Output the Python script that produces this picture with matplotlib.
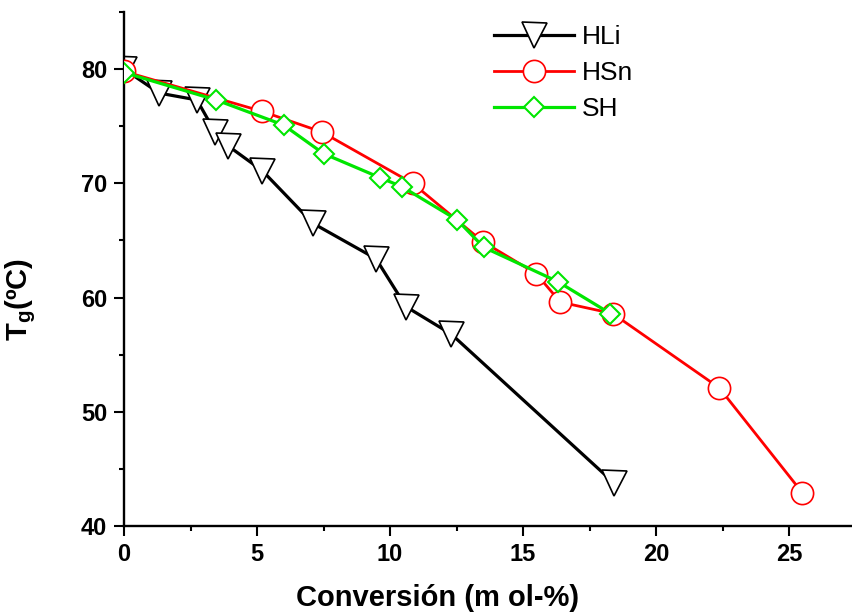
import matplotlib
matplotlib.use("Agg")
import matplotlib.pyplot as plt
from matplotlib.ticker import MultipleLocator

plt.rcParams['font.family'] = ['Liberation Sans', 'DejaVu Sans']
plt.rcParams['mathtext.default'] = 'regular'

# Data
hli_x = [0.0, 1.32, 2.74, 3.42, 3.9, 5.2, 7.1, 9.47, 10.6, 12.3, 18.4]
hli_y = [80.0, 77.9, 77.3, 74.5, 73.3, 71.1, 66.5, 63.4, 59.2, 56.8, 43.8]

hsn_x = [0.0, 5.19, 7.43, 10.85, 13.48, 15.49, 16.4, 18.37, 22.37, 25.5]
hsn_y = [79.8, 76.3, 74.5, 70.0, 64.9, 62.1, 59.6, 58.6, 52.1, 42.9]

sh_x = [0.0, 3.46, 6.0, 7.5, 9.62, 10.45, 12.52, 13.52, 16.3, 18.28]
sh_y = [79.7, 77.3, 75.1, 72.6, 70.5, 69.7, 66.8, 64.4, 61.4, 58.6]

labels = ['HLi', 'HSn', 'SH']
xlabel = 'Conversión (m ol-%)'
ylabel = 'T$_{g}$(ºC)'

fig = plt.figure(figsize=(8.53, 6.15), dpi=100)
ax = fig.add_axes([0.1454, 0.1447, 0.8546, 0.8358])

ax.plot(hli_x, hli_y, color='black', lw=2.3, marker='v', ms=18,
        mfc='white', mec='black', mew=1.2, label=labels[0], zorder=2)
ax.plot(hsn_x, hsn_y, color='#ff0000', lw=2.0, marker='o', ms=16,
        mfc='white', mec='#ff0000', mew=1.2, label=labels[1], zorder=3)
ax.plot(sh_x, sh_y, color='#00e600', lw=2.3, marker='D', ms=10,
        mfc='white', mec='#00e600', mew=1.5, label=labels[2], zorder=4)

ax.set_xlim(0, 27.4)
ax.set_ylim(40, 85)
ax.xaxis.set_major_locator(MultipleLocator(5))
ax.xaxis.set_minor_locator(MultipleLocator(2.5))
ax.yaxis.set_major_locator(MultipleLocator(10))
ax.yaxis.set_minor_locator(MultipleLocator(5))

for s in ['top', 'right']:
    ax.spines[s].set_visible(False)
for s in ['left', 'bottom']:
    ax.spines[s].set_linewidth(1.7)

ax.tick_params(which='major', direction='out', length=7, width=1.5,
               labelsize=17, pad=5)
ax.tick_params(which='minor', direction='out', length=3.6, width=1.5)
for lbl in ax.get_xticklabels() + ax.get_yticklabels():
    lbl.set_fontweight('bold')

ax.set_xlabel(xlabel, fontsize=21, fontweight='bold')
ax.xaxis.set_label_coords(0.43, -0.112)
ax.set_ylabel(ylabel, fontsize=21, fontweight='bold')
ax.yaxis.set_label_coords(-0.118, 0.44)

leg = ax.legend(loc='upper left', bbox_to_anchor=(0.49, 1.0), frameon=False,
                fontsize=19, handlelength=3.0, handletextpad=0.3,
                labelspacing=0.45, borderaxespad=0.1)

fig.savefig('out.png', dpi=100)
